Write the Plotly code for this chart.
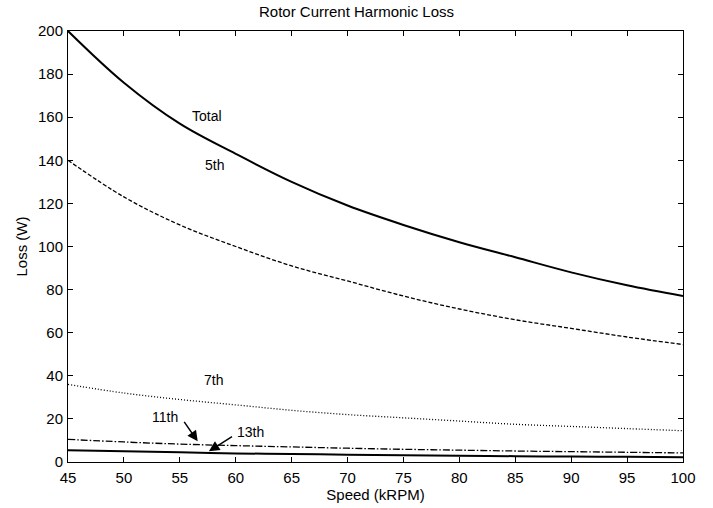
import plotly.graph_objects as go

speed = [45, 50, 55, 60, 65, 70, 75, 80, 85, 90, 95, 100]
total = [200, 176, 157, 143, 130, 119, 110, 102, 95, 88, 82, 77]
h5 = [140, 123, 110, 100, 91, 84, 77, 71, 66, 62, 58, 54.5]
h7 = [36, 32, 29, 26.5, 24, 22, 20.5, 19, 17.5, 16.5, 15.5, 14.5]
h11 = [10.5, 9.3, 8.3, 7.6, 7.0, 6.4, 5.9, 5.5, 5.1, 4.8, 4.5, 4.2]
h13 = [5.5, 5.0, 4.5, 4.0, 3.7, 3.4, 3.1, 2.9, 2.7, 2.5, 2.4, 2.2]

fig = go.Figure()
fig.add_trace(go.Scatter(x=speed, y=total, mode="lines", line=dict(color="black", width=2, shape="spline")))
fig.add_trace(go.Scatter(x=speed, y=h5, mode="lines", line=dict(color="black", width=1.3, dash="4px,2px", shape="spline")))
fig.add_trace(go.Scatter(x=speed, y=h7, mode="lines", line=dict(color="black", width=1.3, dash="1px,2px", shape="spline")))
fig.add_trace(go.Scatter(x=speed, y=h11, mode="lines", line=dict(color="black", width=1.3, dash="7px,2px,1.5px,2px", shape="spline")))
fig.add_trace(go.Scatter(x=speed, y=h13, mode="lines", line=dict(color="black", width=2, shape="spline")))

font = dict(family="Liberation Sans, Arial, sans-serif", size=15, color="black")
afont = dict(family="Liberation Sans, Arial, sans-serif", size=14, color="black")

annotations = [
    dict(x=57.4, y=160.5, text="Total", showarrow=False, xanchor="center", yanchor="middle"),
    dict(x=58.1, y=138, text="5th", showarrow=False, xanchor="center", yanchor="middle"),
    dict(x=58.0, y=38, text="7th", showarrow=False, xanchor="center", yanchor="middle"),
    dict(x=53.7, y=21, text="11th", showarrow=False, xanchor="center", yanchor="middle"),
    dict(x=61.3, y=13.8, text="13th", showarrow=False, xanchor="center", yanchor="middle"),
    dict(x=56.6, y=9.6, ax=55.3, ay=19.3, axref="x", ayref="y", text="", showarrow=True,
         arrowhead=2, arrowsize=1.4, arrowwidth=1.5, arrowcolor="black"),
    dict(x=57.6, y=5.0, ax=59.8, ay=12.2, axref="x", ayref="y", text="", showarrow=True,
         arrowhead=2, arrowsize=1.4, arrowwidth=1.5, arrowcolor="black"),
]

axis_common = dict(showgrid=False, zeroline=False, showline=True, linecolor="black", linewidth=1,
                   mirror="ticks", ticks="inside", ticklen=5, tickcolor="black",
                   tickfont=font, automargin=False)

fig.update_layout(
    width=713, height=508,
    margin=dict(l=68, r=30, t=31, b=46),
    paper_bgcolor="white", plot_bgcolor="white",
    showlegend=False,
    font=font,
    title=dict(text="Rotor Current Harmonic Loss", x=0.5, xanchor="center", y=0.976, yanchor="middle",
               font=font),
    xaxis=dict(range=[45, 100], tickvals=speed, ticklabelstandoff=2,
               title=dict(text="Speed (kRPM)", standoff=2, font=font), **axis_common),
    yaxis=dict(range=[0, 200], tickvals=list(range(0, 201, 20)), ticklabelstandoff=1,
               title=dict(text="Loss (W)", standoff=6, font=font), **axis_common),
    annotations=[dict(a, font=afont) for a in annotations],
)

fig.write_html("out.html")
